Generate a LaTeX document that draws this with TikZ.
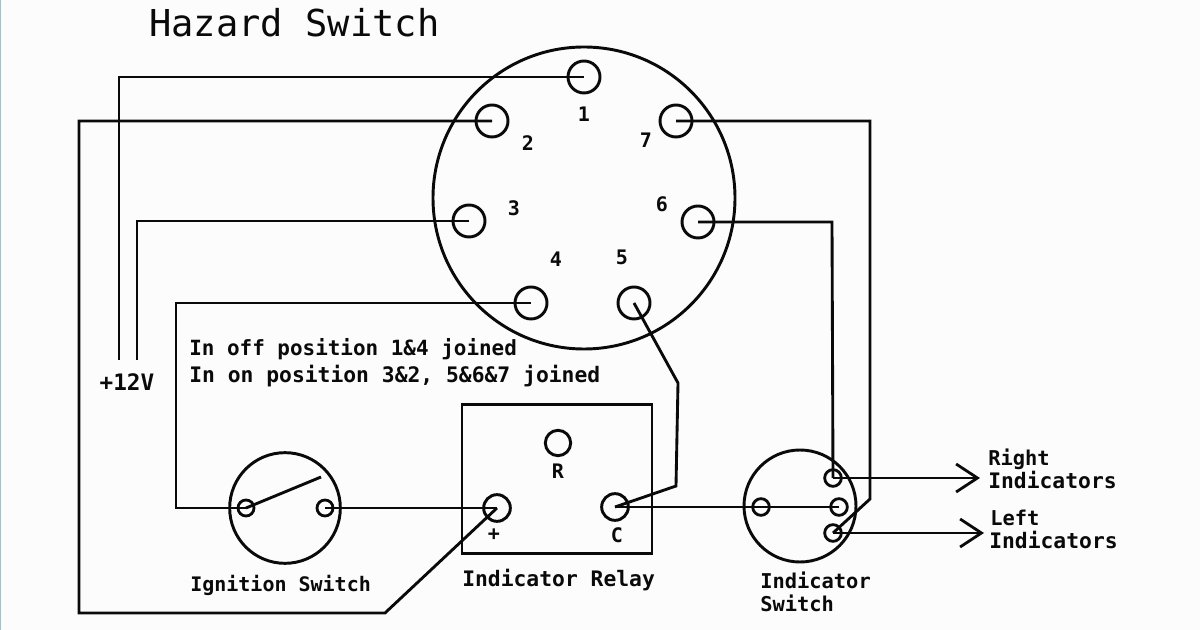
\documentclass[tikz,border=0pt]{standalone}
\usepackage{fontspec}
\setmainfont{DejaVu Sans Mono}
\usetikzlibrary{arrows.meta}
\definecolor{paper}{HTML}{FCFCFC}
\definecolor{ink}{HTML}{0A0A0A}
\definecolor{edge}{HTML}{9FC3D0}
\begin{document}
\begin{tikzpicture}[x=0.75pt,y=-0.75pt,
  wire/.style={draw=ink,line width=2.15pt,line join=miter},
  body/.style={draw=ink,line width=2.2pt,circle,inner sep=0pt,fill=none},
  midpin/.style={body,minimum size=18pt},
  smallpin/.style={body,minimum size=12pt,line width=2.1pt},
  lbl/.style={text=ink,font=\fontsize{15}{15}\selectfont\bfseries,inner sep=0pt},
  txt/.style={text=ink,font=\fontsize{16}{16}\selectfont\bfseries,inner sep=0pt,anchor=base west},
  txtn/.style={txt,font=\fontsize{15.3}{15.3}\selectfont\bfseries},
  tip/.style={-{Straight Barb[length=16pt,width=21pt,line width=2.1pt]}}
]
\fill[paper] (0,0) rectangle (1200,630);
\fill[edge] (0,0) rectangle (1.3,630);
\useasboundingbox (0,0) rectangle (1200,630);
% main circle
\node[body,minimum size=226.5pt] (main) at (584,198) {};
\node[midpin,minimum size=24pt] (p1) at (584,77) {};
\node[midpin,minimum size=24pt] (p2) at (492,121) {};
\node[midpin,minimum size=24pt] (p3) at (469,221) {};
\node[midpin,minimum size=24pt] (p4) at (531,303) {};
\node[midpin,minimum size=24pt] (p5) at (634,303) {};
\node[midpin,minimum size=24pt] (p6) at (698,222) {};
\node[midpin,minimum size=24pt] (p7) at (676,121) {};
\node[lbl] (n1) at (584,114) {1};
\node[lbl] (n2) at (528,143) {2};
\node[lbl] (n3) at (514,208) {3};
\node[lbl] (n4) at (556,259) {4};
\node[lbl] (n5) at (622,257) {5};
\node[lbl] (n6) at (662,204) {6};
\node[lbl] (n7) at (646,140) {7};
% relay
\node[draw=ink,line width=2.2pt,minimum width=142.5pt,minimum height=112pt,inner sep=0pt] (relay) at (557,479) {};
\node[midpin,minimum size=19pt] (r) at (558,443) {};
\node[lbl] (rl) at (558,471) {R};
\node[midpin,minimum size=20pt] (plus) at (497,508) {};
\node[lbl] (pl) at (494,535) {+};
\node[midpin,minimum size=20pt] (c) at (615,507) {};
\node[lbl] (cl) at (617,535) {C};
% ignition
\node[body,minimum size=83pt] (ign) at (285,508) {};
\node[smallpin] (ia) at (246,508) {};
\node[smallpin] (ib) at (325,508) {};
\coordinate (iend) at (321,477);
% indicator
\node[body,minimum size=84pt] (ind) at (800,506) {};
\node[smallpin,minimum size=12.5pt] (sl) at (761,507) {};
\node[smallpin,minimum size=12.5pt] (sr) at (833,478) {};
\node[smallpin,minimum size=12.5pt] (sm) at (839,507) {};
\node[smallpin,minimum size=12.5pt] (sb) at (833,533) {};
% free points
\node[txt,anchor=center,font=\fontsize{17}{17}\selectfont\bfseries] (v12) at (127,382) {+12V};
\coordinate (vA) at (119,360);
\coordinate (vB) at (137,360);
\coordinate (rarrow) at (980,478);
\coordinate (larrow) at (984,533);
% wires
\draw[wire] (p1.center) -- (119,77) -- (vA);
\draw[wire] (p3.center) -- (137,221) -- (vB);
\draw[wire] (p2.center) -- (79,121) -- (79,613) -- (385,613) -- (plus.center);
\draw[wire] (p4.center) -- (176,303) -- (176,508) -- (ia.center);
\draw[wire] (ia.center) -- (iend);
\draw[wire] (ib.center) -- (plus.center);
\draw[wire] (p5.center) -- (678,383) -- (676,486) -- (c.center);
\draw[wire] (c.center) -- (sl.center);
\draw[wire] (sl.center) -- (sm.center);
\draw[wire] (p6.center) -- (832,222) -- (sr.center);
\draw[wire] (p7.center) -- (870,121) -- (870,499) -- (sb.center);
\draw[wire,tip] (sr.center) -- (rarrow);
\draw[wire,tip] (sb.center) -- (larrow);
% texts
\node[txt,font=\fontsize{27.8}{27.8}\selectfont] (title) at (149,37) {Hazard Switch};
\node[txt,font=\fontsize{15.7}{15.7}\selectfont\bfseries] (t1) at (189,356) {In off position 1\&4 joined};
\node[txt] (t2) at (189,383) {In on position 3\&2, 5\&6\&7 joined};
\node[txt,font=\fontsize{15}{15}\selectfont\bfseries] (t3) at (190,592) {Ignition Switch};
\node[txt] (t4) at (462,587) {Indicator Relay};
\node[txtn] (t5) at (760,589) {Indicator};
\node[txtn] (t6) at (760,612) {Switch};
\node[txtn] (t7) at (988,466) {Right};
\node[txt] (t8) at (988,489) {Indicators};
\node[txtn] (t9) at (990,526) {Left};
\node[txt] (t10) at (989,549) {Indicators};
\end{tikzpicture}
\end{document}
